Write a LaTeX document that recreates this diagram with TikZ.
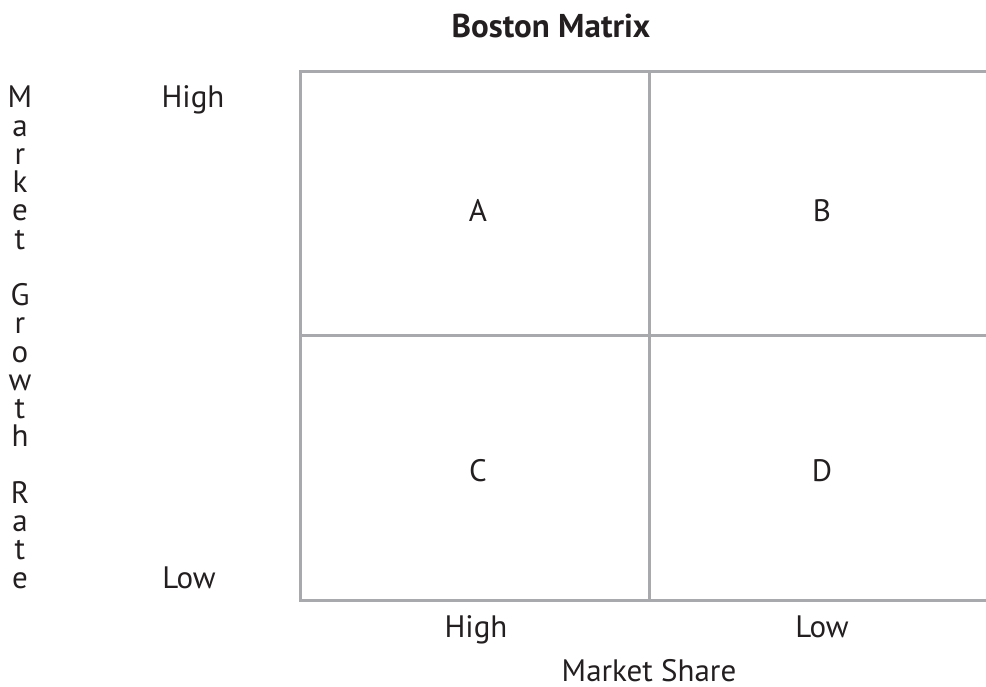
\documentclass[tikz,border=0pt]{standalone}
\usepackage{fontspec}
\setmainfont{PT Sans}
\usetikzlibrary{positioning}
\definecolor{gridgray}{HTML}{A7A9AC}
\definecolor{inkblack}{HTML}{231F20}

\begin{document}
\begin{tikzpicture}[x=1pt, y=-1pt]
		\def\rowsep{28.24}
		\tikzstyle{axistext} = [text=inkblack, font=\fontsize{31}{36}\selectfont, inner sep=0pt, anchor=base]
		\tikzstyle{gridline} = [draw=gridgray, line width=3pt]
		\useasboundingbox (0,0) rectangle (986,687);

		% title
		\node[axistext, font=\fontsize{33}{38}\selectfont\bfseries] (title) at (551,38) {Boston Matrix};

		% grid corners
		\coordinate (top-left) at (300,72);
		\coordinate (top-mid) at (649,72);
		\coordinate (top-right) at (986,72);
		\coordinate (mid-left) at (300,335);
		\coordinate (mid-right) at (986,335);
		\coordinate (bottom-left) at (300,600);
		\coordinate (bottom-mid) at (649,600);
		\coordinate (bottom-right) at (986,600);

		% grid lines
		\draw[gridline] (top-right) -- (top-left) -- (bottom-left) -- (bottom-right);
		\draw[gridline] (top-mid) -- (bottom-mid);
		\draw[gridline] (mid-left) -- (mid-right);

		% quadrants
		\node[axistext] (cell-A) at (478,222) {A};
		\node[axistext] (cell-B) at (822,222) {B};
		\node[axistext] (cell-C) at (478,481) {C};
		\node[axistext] (cell-D) at (822,481) {D};

		% growth axis
		\node[axistext] (growth-high) at (193,108) {High};
		\node[axistext] (growth-low) at (189,588) {Low};
		\foreach \ch / \k in {M/0, a/1, r/2, k/3, e/4, t/5, G/7, r/8, o/9, w/10, t/11, h/12, R/14, a/15, t/16, e/17}
			\node[axistext] (growth-\k) at (20, 108+\rowsep*\k) {\ch};

		% share axis
		\node[axistext] (share-high) at (476,637) {High};
		\node[axistext] (share-low) at (822,637) {Low};
		\node[axistext] (share-title) at (649,681) {Market Share};
	\end{tikzpicture}
\end{document}
